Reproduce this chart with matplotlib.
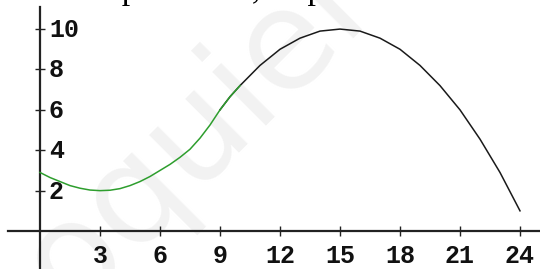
import matplotlib
matplotlib.use("Agg")
import matplotlib.pyplot as plt
from matplotlib.transforms import offset_copy

# ---- data ----
green_x = [0, 0.5, 1, 1.5, 2, 2.5, 3, 3.5, 4, 4.5, 5, 5.5, 6, 6.5, 7, 7.5, 8, 8.5, 9, 9.5, 10]
green_y = [2.9, 2.65, 2.45, 2.25, 2.12, 2.03, 2.0, 2.02, 2.1, 2.25, 2.45, 2.7, 3.0, 3.3, 3.65, 4.05, 4.6, 5.25, 6.0, 6.65, 7.2]

black_x = [9, 9.5, 10, 11, 12, 13, 14, 15, 16, 17, 18, 19, 20, 21, 22, 23, 24]
black_y = [6.0, 6.65, 7.2, 8.2, 9.0, 9.55, 9.9, 10.0, 9.9, 9.55, 9.0, 8.2, 7.2, 6.0, 4.55, 2.9, 1.0]

x_ticks = [3, 6, 9, 12, 15, 18, 21, 24]
y_ticks = [2, 4, 6, 8, 10]

header = "mets des paraboles, ce passe d'un arc à l'autre de"
watermark = "oquier"

# ==================== FIGURE ====================
fig = plt.figure(figsize=(5.4, 2.69), dpi=100)
ax = fig.add_axes([0, 0, 1, 1])
ax.set_xlim(-2, 25)
ax.set_ylim(-1.88, 11.44)
ax.set_facecolor("white")

# watermark
ax.text(8.0, 5.0, watermark, rotation=45, fontsize=100, color="#f2f2f2",
        family="DejaVu Sans", ha="center", va="center", zorder=0)

# axes through the origin
for s in ["top", "right"]:
    ax.spines[s].set_visible(False)
ax.spines["left"].set_position(("data", 0))
ax.spines["bottom"].set_position(("data", 0))
ax.spines["left"].set_bounds(-1.88, 11.1)
ax.spines["bottom"].set_bounds(-1.6, 25)
for s in ["left", "bottom"]:
    ax.spines[s].set_linewidth(1.6)
    ax.spines[s].set_color("#222222")

ax.set_xticks(x_ticks)
ax.set_yticks(y_ticks)
ax.tick_params(direction="inout", length=7.2, width=1.0, color="#222222",
               labelbottom=False, labelleft=False)

lab_font = dict(family="Liberation Mono", fontweight="bold", fontsize=18, color="#111111")
tx = offset_copy(ax.transData, fig=fig, x=0, y=-32, units="dots")
for v in x_ticks:
    ax.text(v, 0, str(v), transform=tx, ha="center", va="baseline", **lab_font)
ty = offset_copy(ax.transData, fig=fig, x=9, y=-8, units="dots")
for v in y_ticks:
    ax.text(0, v, str(v), transform=ty, ha="left", va="baseline", **lab_font)

# curves
ax.plot(black_x, black_y, color="#1a1a1a", lw=1.1, zorder=3)
ax.plot(green_x, green_y, color="#2e9e2e", lw=1.1, zorder=4)

# cut-off line of text at the top
fig.text(-0.01, 1 + 1 / 269, header, family="Liberation Serif", fontsize=24.5,
         color="black", ha="left", va="baseline")

fig.savefig("out.png", dpi=100)
